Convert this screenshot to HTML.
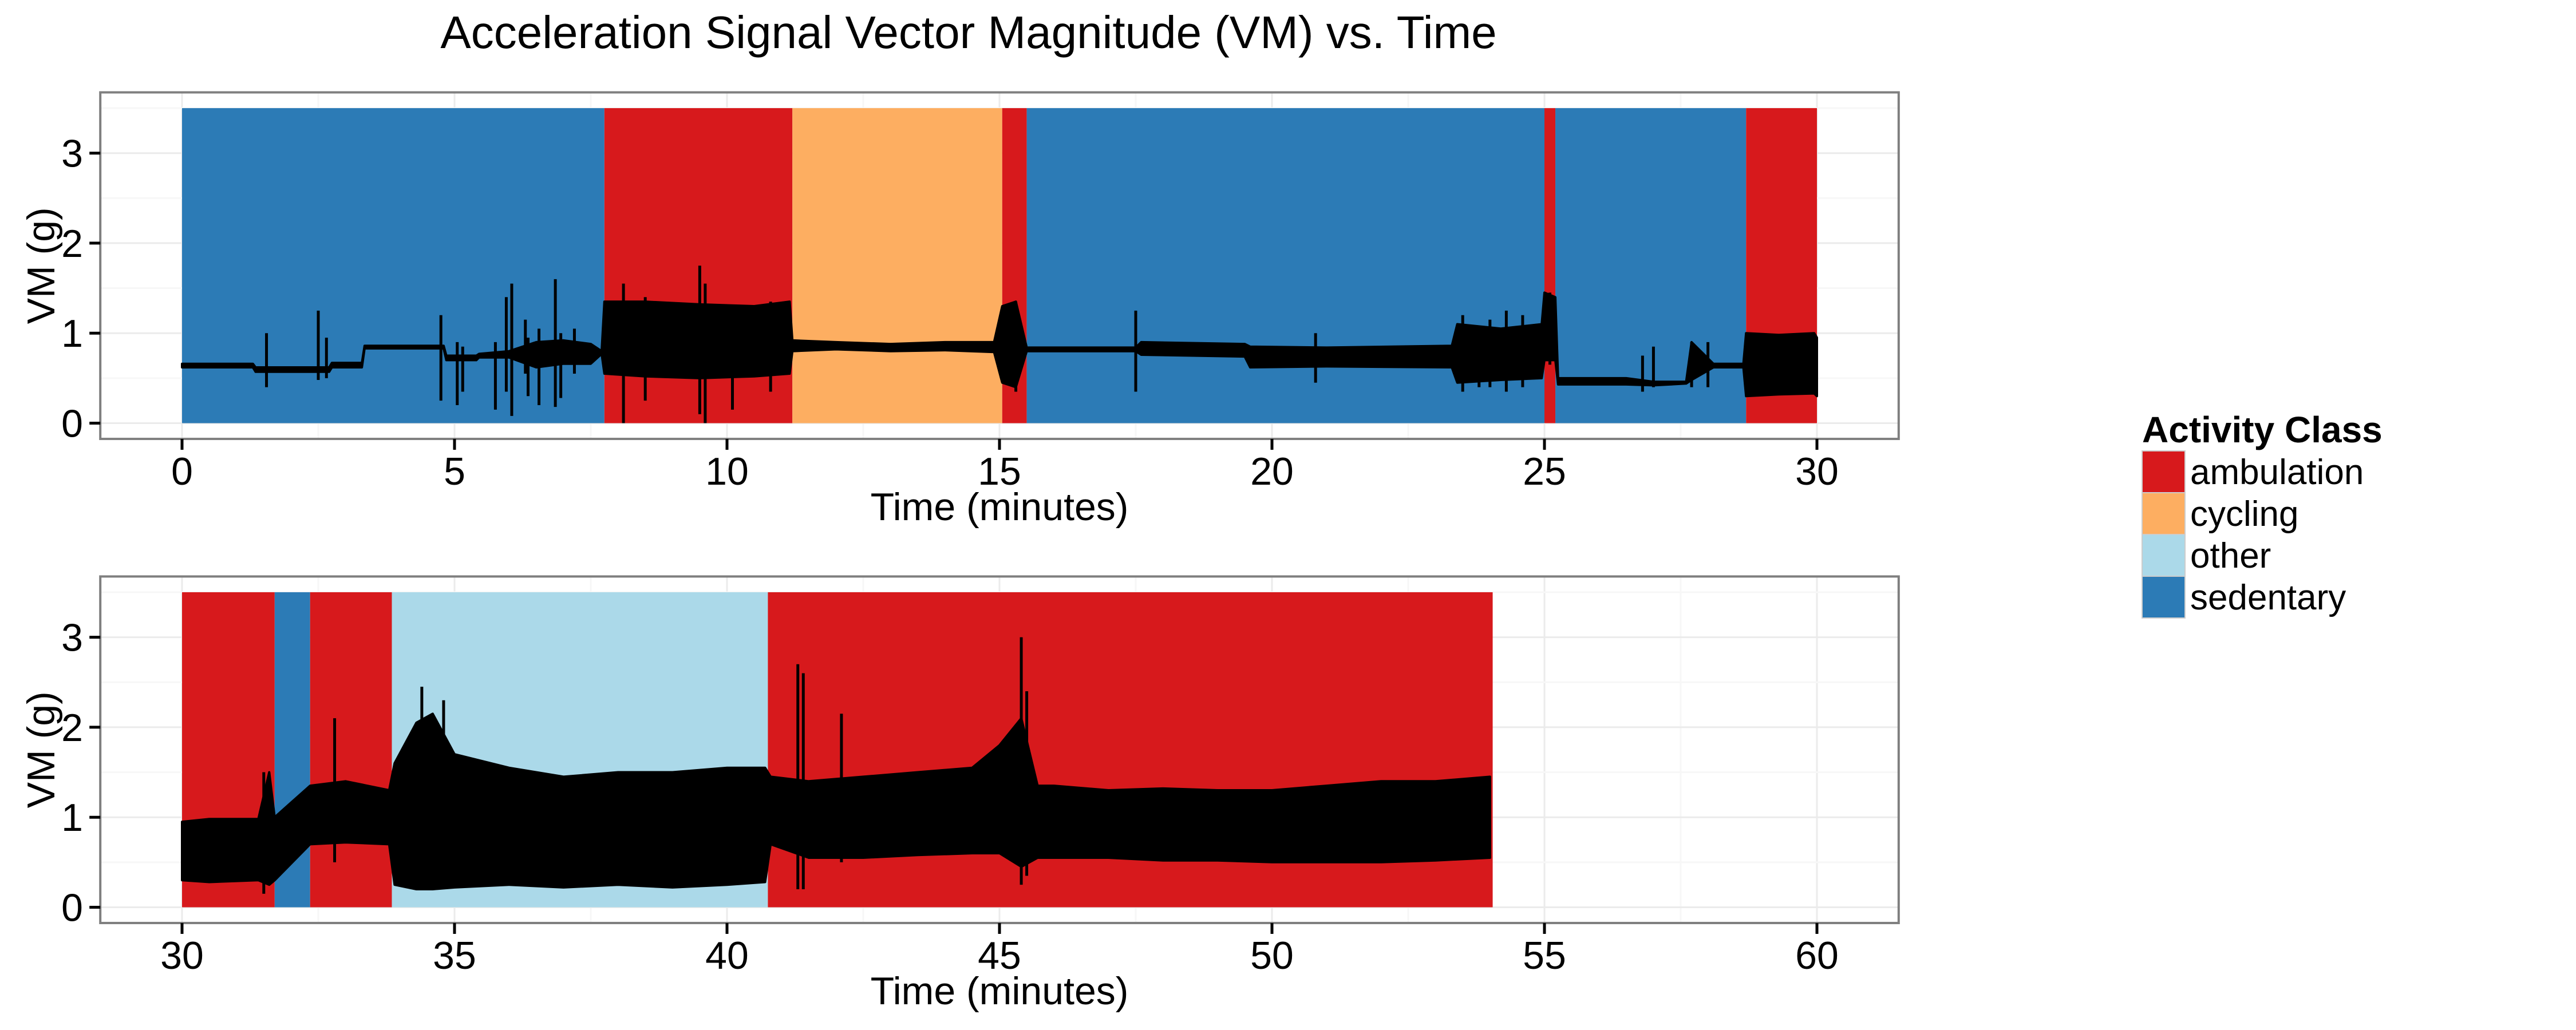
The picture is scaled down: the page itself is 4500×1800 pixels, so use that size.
<!DOCTYPE html>
<html><head><meta charset="utf-8">
<style>
html,body{margin:0;padding:0;background:#fff;}
svg{display:block;font-family:"Liberation Sans",Arial,sans-serif;}
</style></head>
<body>
<svg id="chart" width="4500" height="1800" viewBox="0 0 4500 1800" xmlns="http://www.w3.org/2000/svg">
<rect x="0" y="0" width="4500" height="1800" fill="#fff"/>
<text x="1692" y="84" font-size="80" text-anchor="middle" fill="#000">Acceleration Signal Vector Magnitude (VM) vs. Time</text>
<g id="panels"></g>
<g id="legend">
  <text x="3742" y="773" font-size="64" font-weight="bold" fill="#000">Activity Class</text>
</g>
</svg>
<script>
// ---- data ----
const classes = ["ambulation","cycling","other","sedentary"];
const classColors = ["#d7191c","#fdae61","#abd9e9","#2c7bb6"];

// activity segments (minutes)
const segStart = [0, 7.75, 11.2, 15.05, 15.5, 25.0, 25.2, 28.7, 30, 31.7, 32.35, 33.85, 40.75];
const segEnd   = [7.75, 11.2, 15.05, 15.5, 25.0, 25.2, 28.7, 30, 31.7, 32.35, 33.85, 40.75, 54.05];
const segClass = ["sedentary","ambulation","cycling","ambulation","sedentary","ambulation","sedentary","ambulation",
                  "ambulation","sedentary","ambulation","other","ambulation"];

// VM envelope (time, low, high) in g
const envT  = [0,1.3,1.35,2.7,2.75,3.3,3.35,4.8,4.85,5.4,5.45,6.0,6.5,7.0,7.5,7.7,7.75,8.5,9.5,10.5,11.15,11.2,12,13,14,14.9,15.05,15.3,15.5,15.6,17.5,17.6,19.5,19.6,21,23.3,23.4,24.2,24.95,25.0,25.2,25.25,26.5,27.0,27.6,27.7,28.1,28.2,28.65,28.7,29.3,29.95,
               30,30.5,31.4,31.6,31.7,32.35,33.0,33.8,33.9,34.3,34.6,35.0,36,37,38,39,40,40.7,40.8,41.5,42.5,43.5,44.5,45.0,45.4,45.7,46.0,47,48,49,50,51,52,53,54.0];
const envLo = [0.62,0.62,0.57,0.57,0.62,0.62,0.83,0.83,0.70,0.70,0.73,0.73,0.62,0.66,0.66,0.77,0.55,0.52,0.50,0.52,0.55,0.80,0.82,0.80,0.81,0.79,0.45,0.40,0.80,0.80,0.80,0.76,0.74,0.62,0.63,0.62,0.45,0.48,0.50,0.70,0.70,0.43,0.43,0.42,0.44,0.48,0.62,0.62,0.62,0.30,0.32,0.33,
               0.30,0.28,0.30,0.25,0.30,0.70,0.72,0.70,0.25,0.20,0.20,0.22,0.25,0.22,0.25,0.22,0.25,0.28,0.70,0.55,0.55,0.58,0.60,0.60,0.45,0.55,0.55,0.55,0.52,0.52,0.50,0.50,0.50,0.52,0.55];
const envHi = [0.66,0.66,0.62,0.62,0.67,0.67,0.86,0.86,0.75,0.75,0.77,0.80,0.90,0.92,0.88,0.80,1.35,1.35,1.32,1.30,1.35,0.92,0.90,0.88,0.90,0.90,1.30,1.35,0.84,0.84,0.84,0.90,0.88,0.85,0.84,0.86,1.10,1.05,1.10,1.45,1.40,0.50,0.50,0.46,0.46,0.90,0.66,0.66,0.66,1.00,0.98,1.00,
               0.95,0.98,0.98,1.50,1.00,1.35,1.40,1.30,1.60,2.05,2.15,1.70,1.55,1.45,1.50,1.50,1.55,1.55,1.45,1.40,1.45,1.50,1.55,1.80,2.10,1.35,1.35,1.30,1.32,1.30,1.30,1.35,1.40,1.40,1.45];

// individual spikes
const spikeT  = [1.55,2.5,2.65,4.75,5.05,5.15,5.75,5.95,6.05,6.3,6.35,6.55,6.85,6.95,7.2,8.1,8.5,9.5,9.6,10.1,10.8,15.3,17.5,20.8,23.5,23.8,24.0,24.3,24.6,25.1,26.8,27.0,27.7,28.0,
                31.5,32.8,34.4,34.8,41.3,41.4,42.1,45.4,45.5];
const spikeLo = [0.40,0.48,0.50,0.25,0.20,0.35,0.15,0.35,0.08,0.55,0.30,0.20,0.18,0.28,0.55,0.00,0.25,0.10,0.00,0.15,0.35,0.35,0.35,0.45,0.35,0.40,0.40,0.35,0.40,0.65,0.35,0.40,0.40,0.40,
                0.15,0.50,0.25,0.30,0.20,0.20,0.50,0.25,0.35];
const spikeHi = [1.00,1.25,0.95,1.20,0.90,0.85,0.90,1.40,1.55,1.15,0.95,1.05,1.60,1.00,1.05,1.55,1.40,1.75,1.55,1.30,1.35,1.35,1.25,1.00,1.20,1.05,1.15,1.25,1.20,1.45,0.75,0.85,0.90,0.90,
                1.50,2.10,2.45,2.30,2.70,2.60,2.15,3.00,2.40];

const xTicks = [0,5,10,15,20,25,30];
const yTicks = [0,1,2,3];
const legendLabels = ["ambulation","cycling","other","sedentary"];

// ---- layout ----
const NS = "http://www.w3.org/2000/svg";
const PX_PER_MIN = 95.2, PX_PER_G = 157.3;
const panels = [
  {tmin:0, tmax:30, dy:0, name:"top"},
  {tmin:30, tmax:60, dy:846, name:"bottom"}
];
function mk(tag, attrs, parent){ const e=document.createElementNS(NS,tag); for(const k in attrs) e.setAttribute(k,attrs[k]); parent.appendChild(e); return e; }
const root = document.getElementById("panels");

panels.forEach(p=>{
  const xs = t => 318 + (t - p.tmin)*PX_PER_MIN;
  const ys = v => 739.5 + p.dy - v*PX_PER_G;
  const left = xs(p.tmin-1.5), right = xs(p.tmax+1.5);
  const top = ys(3.675), bottom = ys(-0.175);
  const g = mk("g",{},root);
  
  
  for(let m=p.tmin-2.5; m<=p.tmax+2.5; m+=2.5){
    const x=xs(m); if(x<left||x>right) continue;
    const major = Math.abs(m%5)<1e-6;
    const l=mk("line",{x1:x,x2:x,y1:top,y2:bottom,stroke:major?"#ebebeb":"#f7f7f7","stroke-width":3},g);
    
    
  }
  for(let v=0; v<=3.5; v+=0.5){
    const y=ys(v); const major = Math.abs(v%1)<1e-6;
    const l=mk("line",{x1:left,x2:right,y1:y,y2:y,stroke:major?"#ebebeb":"#f7f7f7","stroke-width":3},g);
    
    
  }
  segStart.forEach((s,i)=>{
    if(s < p.tmin-1e-6 || s >= p.tmax) return;
    const c = classColors[classes.indexOf(segClass[i])];
    const r=mk("rect",{x:xs(s),y:ys(3.5),width:xs(segEnd[i])-xs(s),height:ys(0)-ys(3.5),fill:c},g);
    
    
  });
  const idx = envT.map((t,i)=>i).filter(i=>envT[i]>=p.tmin && envT[i]<=p.tmax);
  let d = "M"+idx.map(i=>xs(envT[i]).toFixed(1)+","+ys(envHi[i]).toFixed(1)).join("L");
  d += "L"+idx.slice().reverse().map(i=>xs(envT[i]).toFixed(1)+","+ys(envLo[i]).toFixed(1)).join("L")+"Z";
  const env=mk("path",{d:d,fill:"#000",stroke:"#000","stroke-width":4,"stroke-linejoin":"round"},g);
  
  
  spikeT.forEach((t,i)=>{
    if(t<p.tmin||t>p.tmax) return;
    const l=mk("line",{x1:xs(t),x2:xs(t),y1:ys(spikeLo[i]),y2:ys(spikeHi[i]),stroke:"#000","stroke-width":5},g);
    
    
  });
  const b=mk("rect",{x:left,y:top,width:right-left,height:bottom-top,fill:"none",stroke:"#7f7f7f","stroke-width":4},g);
  
  
  xTicks.forEach(v=>{
    const t=v+p.tmin, x=xs(t);
    const tk=mk("line",{x1:x,x2:x,y1:bottom,y2:bottom+19,stroke:"#000","stroke-width":5},g);
    
    
    const tx=mk("text",{x:x,y:bottom+80,"font-size":68,"text-anchor":"middle",fill:"#000"},g);
    tx.textContent=t;
    
    
  });
  yTicks.forEach(v=>{
    const y=ys(v);
    const tk=mk("line",{x1:left-19,x2:left,y1:y,y2:y,stroke:"#000","stroke-width":5},g);
    
    
    const tx=mk("text",{x:145,y:y+24,"font-size":68,"text-anchor":"end",fill:"#000"},g);
    tx.textContent=v;
    
    
  });
  const xt=mk("text",{x:(left+right)/2,y:bottom+142,"font-size":68,"text-anchor":"middle",fill:"#000"},g);
  xt.textContent="Time (minutes)";
  
  
  const cy=(top+bottom)/2;
  const yt=mk("text",{x:0,y:0,"font-size":68,"text-anchor":"middle",fill:"#000",transform:`translate(95,${cy}) rotate(-90)`},g);
  yt.textContent="VM (g)";
  
  
});

const lg=document.getElementById("legend");
legendLabels.forEach((lab,i)=>{
  const y=788+i*73;
  const r=mk("rect",{x:3742,y:y,width:75,height:73,fill:classColors[classes.indexOf(lab)],stroke:"#cccccc","stroke-width":2},lg);
  
  
  const t=mk("text",{x:3826,y:y+58,"font-size":62,fill:"#000"},lg);
  t.textContent=lab;
  
  
});
</script>
</body></html>
